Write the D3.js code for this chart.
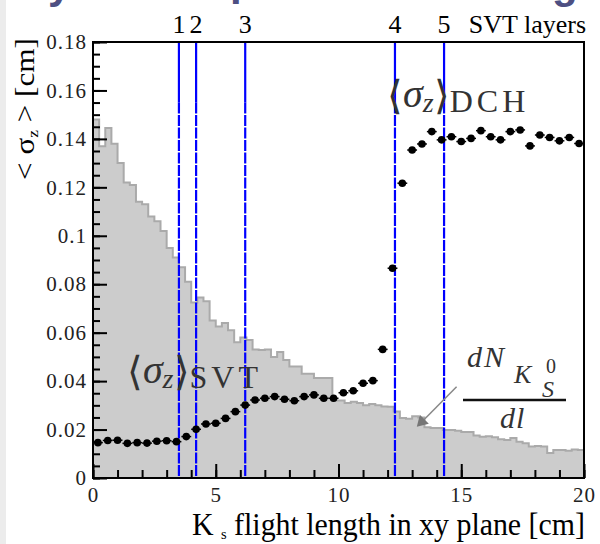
<!DOCTYPE html>
<html>
<head>
<meta charset="utf-8">
<script src="https://cdn.jsdelivr.net/npm/d3@7"></script>
<style>
body { margin: 0; background: #fff; }
svg { display: block; }
svg text { font-family: "Liberation Serif", "Times New Roman", Times, "DejaVu Serif", serif; }
</style>
</head>
<body>
<div id="maincontent"></div>
<script>
// K_S flight length distribution, bins of 0.25 cm from 0 to 20 cm
const histBinWidth = 0.25;
const histValues = [
    0.148, 0.137, 0.1445, 0.138, 0.130, 0.122, 0.121, 0.114, 0.113, 0.108,
    0.106, 0.102, 0.095, 0.091, 0.087, 0.081, 0.0725, 0.0745, 0.073, 0.065,
    0.0625, 0.064, 0.061, 0.056, 0.058, 0.057, 0.053, 0.0528, 0.053, 0.050,
    0.052, 0.0487, 0.046, 0.046, 0.043, 0.043, 0.0413, 0.0413, 0.0413, 0.032,
    0.032, 0.031, 0.0315, 0.031, 0.030, 0.0305, 0.030, 0.0295, 0.0294, 0.0275,
    0.0248, 0.0245, 0.0255, 0.025, 0.021, 0.0206, 0.0206, 0.0198, 0.0198, 0.0195,
    0.019, 0.019, 0.0175, 0.017, 0.0172, 0.0168, 0.016, 0.0157, 0.0165, 0.015,
    0.0143, 0.013, 0.0132, 0.013, 0.0103, 0.0116, 0.0116, 0.0112, 0.0118, 0.0116
];

// <sigma_z> in bins of 0.4 cm
const sigmaBinWidth = 0.4;
const sigmaValues = [
    0.0146, 0.0155, 0.0156, 0.0143, 0.0146, 0.0144, 0.0152, 0.0154, 0.0150, 0.0171,
    0.0201, 0.0223, 0.0226, 0.0246, 0.0274, 0.0301, 0.0322, 0.0329, 0.0336, 0.0325,
    0.0319, 0.0336, 0.0343, 0.0329, 0.0329, 0.0352, 0.0360, 0.0391, 0.0402, 0.0531,
    0.0866, 0.1217, 0.1354, 0.1379, 0.1430, 0.1396, 0.1409, 0.1389, 0.1402, 0.1434,
    0.1409, 0.1396, 0.1430, 0.1437, 0.1371, 0.1416, 0.1406, 0.1392, 0.1406, 0.1381
];

const layerRadius = [3.5, 4.2, 6.2, 12.3, 14.3];
const layerNames = ["1", "2", "3", "4", "5"];

const xTicks = [0, 5, 10, 15, 20];
const yTicks = [0, 0.02, 0.04, 0.06, 0.08, 0.1, 0.12, 0.14, 0.16, 0.18];

const SERIF = '"Liberation Serif", "Times New Roman", Times, "DejaVu Serif", serif';
const width = 600, height = 544;

const x = d3.scaleLinear().domain([0, 20]).range([93, 584]);
const y = d3.scaleLinear().domain([0, 0.18]).range([478, 42]);

const svg = d3.select("#maincontent").append("svg")
    .attr("width", width)
    .attr("height", height);

// slide leftovers: grey strip and the cut off title
svg.append("rect").attr("x", 0).attr("y", 0).attr("width", 6).attr("height", height).attr("fill", "#ececec");
const titleBits = [["y", 48], ["p", 230], ["g", 552]];
svg.selectAll(".titlebit")
    .data(titleBits)
    .enter().append("text")
    .attr("class", "titlebit")
    .attr("x", d => d[1])
    .attr("y", d => d[0] == "p" ? -5 : -2)
    .style("font-family", "Liberation Sans, Arial, sans-serif")
    .attr("font-weight", "bold")
    .attr("font-size", 42)
    .attr("fill", "#4d4f82")
    .text(d => d[0]);

svg.append("clipPath").attr("id", "plotclip")
    .append("rect")
    .attr("x", x(0)).attr("y", y(0.18))
    .attr("width", x(20) - x(0)).attr("height", y(0) - y(0.18));

const plot = svg.append("g").attr("clip-path", "url(#plotclip)");

// histogram
var histData = histValues.map((v, i) => ({ l: i * histBinWidth, v: v }));
histData.push({ l: histValues.length * histBinWidth, v: histValues[histValues.length - 1] });

var area = d3.area()
    .curve(d3.curveStepAfter)
    .x(d => x(d.l))
    .y0(y(0))
    .y1(d => y(d.v));
var outline = d3.line()
    .curve(d3.curveStepAfter)
    .x(d => x(d.l))
    .y(d => y(d.v));

plot.append("path").datum(histData)
    .attr("d", area)
    .attr("fill", "#cccccc");
plot.append("path").datum(histData)
    .attr("d", outline)
    .attr("fill", "none")
    .attr("stroke", "#aaaaaa")
    .attr("stroke-width", 2);

// SVT layers
var layers = plot.selectAll(".layer")
    .data(layerRadius)
    .enter().append("g").attr("class", "layer");
layers.append("line")
    .attr("x1", d => x(d)).attr("x2", d => x(d))
    .attr("y1", y(0.18)).attr("y2", y(0.155))
    .attr("stroke", "#0000ff").attr("stroke-width", 2.2);
layers.append("line")
    .attr("x1", d => x(d)).attr("x2", d => x(d))
    .attr("y1", y(0.155)).attr("y2", y(0))
    .attr("stroke", "#0000ff").attr("stroke-width", 2.2)
    .attr("stroke-dasharray", "11,1.5");

// <sigma_z> points
var pts = plot.selectAll(".pt")
    .data(sigmaValues)
    .enter().append("g").attr("class", "pt");
pts.append("line")
    .attr("x1", (d, i) => x(i * sigmaBinWidth))
    .attr("x2", (d, i) => x((i + 1) * sigmaBinWidth))
    .attr("y1", d => y(d)).attr("y2", d => y(d))
    .attr("stroke", "#000").attr("stroke-width", 1.5);
pts.append("circle")
    .attr("cx", (d, i) => x((i + 0.5) * sigmaBinWidth))
    .attr("cy", d => y(d))
    .attr("r", 3.8)
    .attr("fill", "#000");

// axes
var yAxis = svg.append("g").attr("transform", `translate(${x(0)},0)`);
yAxis.call(d3.axisLeft(y).ticks(36).tickSize(-7).tickFormat(""));
var yMajor = svg.append("g").attr("transform", `translate(${x(0)},0)`);
yMajor.call(d3.axisLeft(y).tickValues(yTicks).tickSize(-14).tickPadding(6)
    .tickFormat(d => d == 0 ? "0" : String(+d.toFixed(2))));

var xAxis = svg.append("g").attr("transform", `translate(0,${y(0)})`);
xAxis.call(d3.axisBottom(x).ticks(20).tickSize(-8).tickFormat(""));
var xMajor = svg.append("g").attr("transform", `translate(0,${y(0)})`);
xMajor.call(d3.axisBottom(x).tickValues(xTicks).tickSize(-14).tickPadding(9));

svg.selectAll(".domain").remove();
svg.selectAll(".tick line").attr("stroke", "#000").attr("stroke-width", 2);
svg.selectAll(".tick text")
    .style("font-family", SERIF)
    .attr("font-size", 21)
    .attr("letter-spacing", 1)
    .attr("fill", "#222");

svg.append("rect")
    .attr("x", x(0)).attr("y", y(0.18))
    .attr("width", x(20) - x(0)).attr("height", y(0) - y(0.18))
    .attr("fill", "none").attr("stroke", "#000").attr("stroke-width", 2);

// layer numbers on top
svg.selectAll(".layername")
    .data(layerRadius)
    .enter().append("text")
    .attr("x", d => x(d))
    .attr("y", 33)
    .attr("text-anchor", "middle")
    .style("font-family", SERIF)
    .attr("font-size", 26)
    .text((d, i) => layerNames[i]);
svg.append("text")
    .attr("x", 586).attr("y", 33)
    .attr("text-anchor", "end")
    .style("font-family", SERIF)
    .attr("font-size", 26)
    .text("SVT layers");

// axis titles
var xt = svg.append("text")
    .attr("x", 192).attr("y", 535)
    .style("font-family", SERIF)
    .attr("font-size", 31)
    .attr("textLength", 393)
    .attr("lengthAdjust", "spacingAndGlyphs");
xt.append("tspan").text("K ");
xt.append("tspan").attr("font-size", 15).attr("dy", 4).text("s");
xt.append("tspan").attr("dy", -4).text(" flight length in xy  plane [cm]");

var yt = svg.append("text")
    .attr("transform", "translate(34,180) rotate(-90)")
    .style("font-family", SERIF)
    .attr("font-size", 27)
    .attr("textLength", 142)
    .attr("lengthAdjust", "spacingAndGlyphs");
yt.append("tspan").text("< σ");
yt.append("tspan").attr("font-size", 15).attr("dy", 4).text("z");
yt.append("tspan").attr("dy", -4).text(" >  [cm]");

// <sigma_z> labels
function sigmaLabel(x0, base, name) {
    var t = svg.append("text")
        .attr("x", x0).attr("y", base)
        .style("font-family", SERIF)
        .attr("fill", "#333");
    t.append("tspan").style("font-family", "DejaVu Sans").attr("font-weight", 200)
        .attr("font-size", 40).attr("dy", -3).text("⟨");
    t.append("tspan").attr("font-style", "italic").attr("font-size", 40)
        .attr("dy", -2).text("σ");
    t.append("tspan").attr("font-style", "italic").attr("font-size", 28)
        .attr("dy", 5).text("z");
    t.append("tspan").style("font-family", "DejaVu Sans").attr("font-weight", 200)
        .attr("font-size", 40).attr("dy", -3).text("⟩");
    t.append("tspan").attr("font-size", 32).attr("letter-spacing", 4)
        .attr("dy", 3).text(name);
}
sigmaLabel(x(11.98), y(0.151), "DCH");
sigmaLabel(x(1.38), y(0.0372), "SVT");

// dN/dl label with arrow
var frac = svg.append("g").attr("fill", "#333").style("font-family", SERIF);
frac.append("text").attr("x", 467).attr("y", 367).style("font-family", SERIF)
    .attr("font-style", "italic").attr("font-size", 30).attr("letter-spacing", 2).text("dN");
frac.append("text").attr("x", 514).attr("y", 383).style("font-family", SERIF)
    .attr("font-style", "italic").attr("font-size", 26).text("K");
frac.append("text").attr("x", 546).attr("y", 373).style("font-family", SERIF)
    .attr("font-size", 20).text("0");
frac.append("text").attr("x", 542).attr("y", 397).style("font-family", SERIF)
    .attr("font-style", "italic").attr("font-size", 24).text("S");
frac.append("line")
    .attr("x1", 463).attr("x2", 566).attr("y1", 400).attr("y2", 400)
    .attr("stroke", "#111").attr("stroke-width", 2.5);
frac.append("text").attr("x", 500).attr("y", 428).style("font-family", SERIF)
    .attr("font-style", "italic").attr("font-size", 30).attr("letter-spacing", 1).text("dl");

svg.append("line")
    .attr("x1", x(14.81)).attr("y1", y(0.0377))
    .attr("x2", x(13.3)).attr("y2", y(0.0222))
    .attr("stroke", "#888").attr("stroke-width", 1.5);
svg.append("path")
    .attr("d", d3.line()([[x(13.19), y(0.0212)], [x(13.19) + 12, y(0.0212) - 3], [x(13.19) + 3, y(0.0212) - 12]]))
    .attr("fill", "#777");
</script>
</body>
</html>
